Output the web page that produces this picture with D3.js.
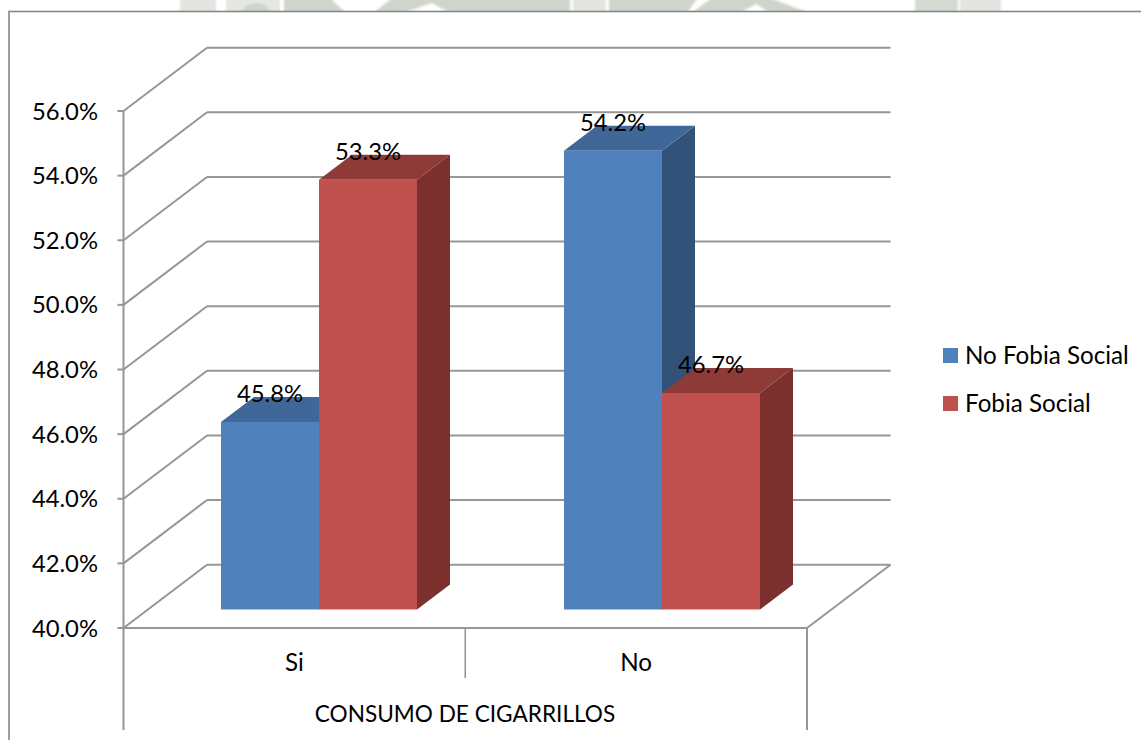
<!DOCTYPE html>
<html><head><meta charset="utf-8">
<script src="https://d3js.org/d3.v7.min.js"></script>
<style>
html,body{margin:0;padding:0;background:#fff}
svg{display:block}
text{font-family:Lato,"Open Sans",sans-serif;fill:#000}
</style></head><body><svg id="c" width="1141" height="740"></svg>
<script>
const categories = ["Si","No"];
const seriesNames = ["No Fobia Social","Fobia Social"];
const noFobia = [45.8,54.2];
const fobia = [53.3,46.7];
const tickValues = [40,42,44,46,48,50,52,54,56];
const axisTitle = "CONSUMO DE CIGARRILLOS";

const FRONT=["#4F81BD","#C0504D"];
const TOP=["#3F6797","#8E3B38"], SIDE=["#325279","#7B302E"];
const LINE="#969696";
const FS=23.8;
const svg=d3.select("#c");
const DX=83.5, DY=-63.3;
const y=d3.scaleLinear().domain([40,56]).range([628,111]);
const x=d3.scaleBand().domain(categories).range([123.5,807]);
const xBars=d3.scaleBand().domain(categories).range([147.5,833.5]);
const x1=d3.scaleBand().domain(seriesNames).range([-98,98]);
const Z0=0.292, Z1=0.687;
const yb=v=>y(v)+Z0*DY;   // y in the front plane of the bars
const dxb=33, dyb=(Z1-Z0)*DY;

// watermark strip behind the frame
const defs=svg.append("defs");
defs.append("filter").attr("id","soft").append("feGaussianBlur").attr("stdDeviation",0.8);
const wm=svg.append("g").attr("filter","url(#soft)");
[["180,-2 216,-2 216,14 180,14","#e2e5e0"],
 ["226,-2 280,-2 280,14 226,14","#e4e7e2"],
 ["240,14 246,5 258,3 266,5 272,14","#cfd5cb"],
 ["284,-2 330,-2 347,14 284,14","#cfd5cb"],
 ["372,14 392,-2 500,-2 490,14 452,14 432,3 400,14","#cfd5cb"],
 ["440,-2 570,-2 570,14 494,14","#cfd5cb"],
 ["573,-2 606,-2 606,14 573,14","#e2e5e0"],
 ["609,-2 698,-2 686,14 609,14","#cfd5cb"],
 ["690,14 712,-2 770,-2 812,14 772,14 756,4 738,14","#cfd5cb"],
 ["915,-2 958,-2 958,14 915,14","#d5dad2"],
 ["960,-2 1001,-2 1001,14 960,14","#e2e5e0"]]
 .forEach(r=>wm.append("polygon").attr("points",r[0]).attr("fill",r[1]));

// frame
svg.append("rect").attr("x",9).attr("y",11.5).attr("width",1140).attr("height",740)
 .attr("fill","#fff").attr("stroke","#868686").attr("stroke-width",1.6);

const line=(a,b,c,d,w)=>svg.append("line").attr("x1",a).attr("y1",b).attr("x2",c).attr("y2",d)
 .attr("stroke",LINE).attr("stroke-width",w||2);

// walls and gridlines
const [xl,xr]=x.range();
tickValues.forEach(t=>{
  line(xl,y(t),xl+DX,y(t)+DY);
  line(xl+DX,y(t)+DY,xr+DX,y(t)+DY);
  line(xl-6,y(t),xl,y(t));
  svg.append("text").attr("x",98).attr("y",y(t)+8.5).attr("text-anchor","end")
    .attr("font-size",FS).text(t.toFixed(1)+"%");
});
// floor + axis
line(xl,y(40),xr,y(40));
line(xr,y(40),xr+DX,y(40)+DY);
line(xl,y(56),xl,730);
line(xr,y(40),xr,730);
line(x("No"),y(40),x("No"),678,1.6);

// bars
categories.forEach((c,i)=>{
  [noFobia,fobia].forEach((s,k)=>{
    const x0=xBars(c)+xBars.bandwidth()/2+x1(seriesNames[k]);
    const w=x1.bandwidth(), v=s[i], top=yb(v), base=yb(40);
    const g=svg.append("g");
    const p=(pts,f)=>g.append("polygon").attr("points",pts.map(q=>q.join(",")).join(" ")).attr("fill",f);
    p([[x0+w,top],[x0+w+dxb,top+dyb],[x0+w+dxb,base+dyb],[x0+w,base]],SIDE[k]);
    p([[x0,top],[x0+dxb,top+dyb],[x0+w+dxb,top+dyb],[x0+w,top]],TOP[k]);
    p([[x0,top],[x0+w,top],[x0+w,base],[x0,base]],FRONT[k]);
  });
});
// value labels
categories.forEach((c,i)=>{
  [noFobia,fobia].forEach((s,k)=>{
    const x0=xBars(c)+xBars.bandwidth()/2+x1(seriesNames[k]);
    svg.append("text").attr("x",x0+x1.bandwidth()/2).attr("y",yb(s[i])-20)
      .attr("text-anchor","middle").attr("font-size",FS).text(s[i].toFixed(1)+"%");
  });
});
// category labels + title
categories.forEach(c=>svg.append("text").attr("x",x(c)+x.bandwidth()/2).attr("y",671)
  .attr("text-anchor","middle").attr("font-size",24.2).text(c));
svg.append("text").attr("x",465).attr("y",722).attr("text-anchor","middle").attr("font-size",22.6).text(axisTitle);

// legend
const ly=d3.scalePoint().domain(seriesNames).range([355.5,403.5]);
seriesNames.forEach((n,k)=>{
  svg.append("rect").attr("x",943).attr("y",ly(n)-7.5).attr("width",15).attr("height",15).attr("fill",FRONT[k]);
  svg.append("text").attr("x",965).attr("y",ly(n)+8.5).attr("font-size",24.2).text(n);
});
</script></body></html>
